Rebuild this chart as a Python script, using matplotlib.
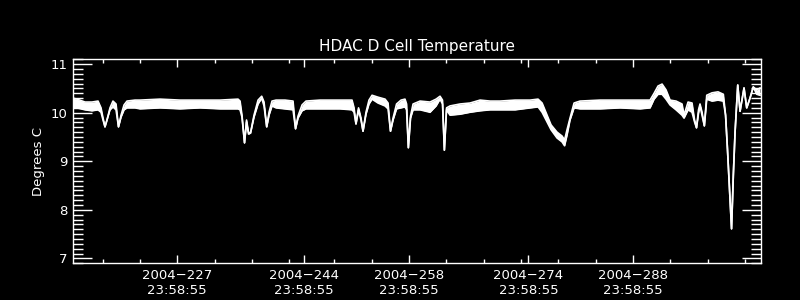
import matplotlib
matplotlib.use("Agg")
import matplotlib.pyplot as plt
import numpy as np

# Day of year 2004 (fractional) and the envelope of the noisy temperature trace
days = [213.04, 213.58, 214.65, 215.58, 216.39, 216.79, 217.06, 217.32, 217.59, 217.99,
        218.39, 218.80, 219.13, 219.47, 219.87, 220.27, 221.34, 222.01, 224.69, 227.36,
        230.04, 232.72, 235.13, 235.40, 235.66, 236.00, 236.27, 236.53, 236.80, 237.27,
        237.81, 238.30, 238.61, 238.97, 239.28, 239.68, 240.22, 241.42, 242.49, 242.83,
        243.16, 243.70, 244.23, 246.11, 248.78, 250.39, 250.66, 250.92, 251.26, 251.59,
        251.86, 252.26, 252.66, 253.07, 253.87, 254.81, 255.21, 255.54, 255.88, 256.35,
        256.95, 257.48, 257.69, 257.93, 258.22, 258.56, 259.50, 260.83, 261.64, 262.17,
        262.50, 262.75, 263.04, 263.51, 264.85, 266.19, 267.53, 268.87, 270.20, 272.21,
        274.22, 275.29, 275.83, 276.49, 277.03, 277.83, 278.50, 278.84, 279.17, 279.57,
        280.11, 280.91, 283.59, 286.27, 288.94, 290.28, 290.82, 291.35, 291.89, 292.42,
        292.96, 293.76, 294.56, 294.83, 295.37, 295.90, 296.24, 296.50, 296.77, 296.97,
        297.24, 297.55, 297.87, 298.58, 299.38, 300.09, 300.39, 300.65, 300.92, 301.19,
        301.43, 301.66, 302.02, 302.33, 302.59, 302.86, 303.22, 303.66, 304.10, 304.56,
        305.00]

temp_max = [10.30, 10.28, 10.22, 10.22, 10.24, 10.10, 9.89, 9.71, 9.85, 10.10,
            10.24, 10.18, 9.71, 9.95, 10.16, 10.24, 10.26, 10.26, 10.28, 10.26,
            10.26, 10.26, 10.28, 10.24, 9.95, 9.38, 9.85, 9.60, 9.58, 9.95,
            10.26, 10.34, 10.22, 9.71, 10.01, 10.24, 10.26, 10.26, 10.24, 9.67,
            9.93, 10.16, 10.24, 10.26, 10.26, 10.26, 10.10, 9.77, 10.10, 9.89,
            9.62, 10.01, 10.26, 10.36, 10.32, 10.28, 10.20, 9.62, 9.89, 10.18,
            10.26, 10.28, 10.18, 9.28, 9.93, 10.18, 10.24, 10.22, 10.28, 10.34,
            10.26, 9.23, 10.10, 10.14, 10.18, 10.20, 10.26, 10.24, 10.24, 10.26,
            10.26, 10.28, 10.20, 9.95, 9.75, 9.60, 9.52, 9.44, 9.65, 9.89,
            10.20, 10.24, 10.26, 10.26, 10.26, 10.26, 10.40, 10.55, 10.59, 10.47,
            10.26, 10.24, 10.18, 9.95, 10.22, 10.20, 9.85, 9.69, 10.06, 10.18,
            10.01, 9.73, 10.36, 10.41, 10.43, 10.38, 9.95, 9.23, 8.41, 7.61,
            8.72, 9.60, 10.57, 10.03, 10.26, 10.51, 10.10, 10.30, 10.53, 10.47,
            10.51]

temp_min = [10.12, 10.10, 10.06, 10.04, 10.06, 10.01, 9.85, 9.71, 9.85, 10.06,
            10.12, 10.06, 9.71, 9.91, 10.06, 10.10, 10.10, 10.08, 10.10, 10.08,
            10.10, 10.08, 10.08, 10.06, 9.91, 9.38, 9.81, 9.56, 9.58, 9.91,
            10.18, 10.30, 10.14, 9.71, 9.95, 10.14, 10.10, 10.08, 10.06, 9.67,
            9.89, 10.04, 10.08, 10.08, 10.08, 10.06, 10.01, 9.77, 10.06, 9.85,
            9.62, 9.97, 10.18, 10.28, 10.20, 10.14, 10.08, 9.62, 9.85, 10.08,
            10.10, 10.12, 10.06, 9.28, 9.89, 10.06, 10.06, 10.01, 10.14, 10.28,
            10.18, 9.23, 10.06, 9.95, 9.97, 10.01, 10.04, 10.06, 10.06, 10.06,
            10.10, 10.12, 10.01, 9.81, 9.65, 9.48, 9.40, 9.32, 9.54, 9.85,
            10.10, 10.08, 10.08, 10.10, 10.08, 10.10, 10.28, 10.38, 10.38, 10.28,
            10.16, 10.06, 9.95, 9.89, 10.06, 10.01, 9.81, 9.69, 9.99, 10.14,
            9.95, 9.73, 10.28, 10.24, 10.26, 10.24, 9.95, 9.23, 8.41, 7.61,
            8.72, 9.60, 10.57, 10.03, 10.26, 10.51, 10.10, 10.30, 10.53, 10.38,
            10.36]

major_days = [227, 244, 258, 274, 288]
major_labels = ["2004\u2212227\n23:58:55", "2004\u2212244\n23:58:55", "2004\u2212258\n23:58:55",
                "2004\u2212274\n23:58:55", "2004\u2212288\n23:58:55"]
minor_days = [217, 222, 232, 237, 242, 248, 253, 263, 268, 273, 278, 283, 293, 298, 303]
y_ticks = [7, 8, 9, 10, 11]

fig = plt.figure(figsize=(8, 3), dpi=100, facecolor="black")
ax = fig.add_axes([0.09125, 0.1223, 0.8597, 0.68], facecolor="black")

ax.fill_between(days, temp_min, temp_max, color="white", linewidth=0)
ax.plot(days, temp_max, color="white", lw=1.2)
ax.plot(days, temp_min, color="white", lw=1.2)

ax.set_xlim(213.04, 305.10)
ax.set_ylim(6.9, 11.1)

ax.set_xticks(major_days)
ax.set_xticklabels(major_labels)
ax.set_xticks(minor_days, minor=True)
ax.set_yticks(y_ticks)
ax.set_yticks(np.arange(6.9, 11.11, 0.1), minor=True)

for s in ax.spines.values():
    s.set_color("white")
    s.set_linewidth(1.0)

ax.tick_params(axis="both", which="both", direction="in", colors="white",
               top=True, right=True, width=1.0)
ax.tick_params(axis="x", which="major", length=6, labelsize=9.5, pad=4)
ax.tick_params(axis="x", which="minor", length=3)
ax.tick_params(axis="y", which="major", length=14, labelsize=9.5, pad=4)
ax.tick_params(axis="y", which="minor", length=7)

ax.set_ylabel("Degrees C", color="white", fontsize=9.5, labelpad=4)
ax.set_title("HDAC D Cell Temperature", color="white", fontsize=11, pad=6)

fig.savefig("out.png", dpi=100, facecolor="black")
